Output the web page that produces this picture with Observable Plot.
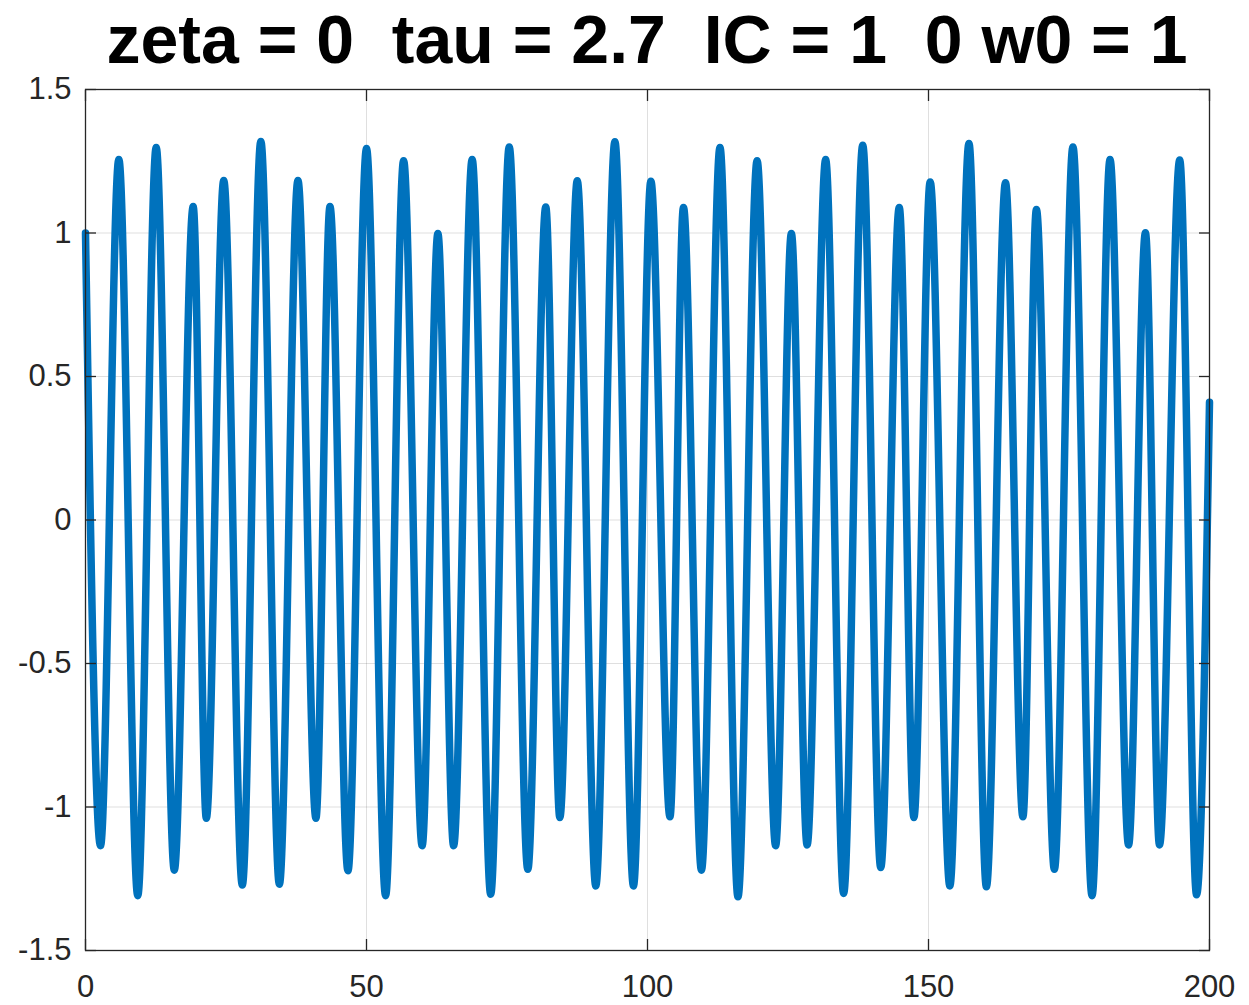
<!DOCTYPE html>
<html>
<head>
<meta charset="utf-8">
<script src="https://cdn.jsdelivr.net/npm/d3@7"></script>
<script src="https://cdn.jsdelivr.net/npm/@observablehq/plot@0.6"></script>
<style>
  html, body { margin: 0; padding: 0; background: #ffffff; }
  #title {
    margin-left: 85px; width: 1124px; height: 75px; line-height: 78px;
    text-align: center; white-space: pre;
    font-family: "Liberation Sans", Arial, Helvetica, sans-serif;
    font-weight: bold; font-size: 68px; color: #000000;
  }
</style>
</head>
<body>
<div id="title"></div>
<div id="chart"></div>
<script>
const titleText = "zeta = 0  tau = 2.7  IC = 1  0 w0 = 1";

// extrema (and end points)
const time = [
  0, 2.67, 5.93, 9.3, 12.58, 15.8, 19.16, 21.5, 24.6, 27.9,
  31.2, 34.5, 37.8, 41.0, 43.5, 46.7, 50.0, 53.4, 56.6, 59.9,
  62.7, 65.5, 68.8, 72.1, 75.4, 78.7, 81.9, 84.4, 87.5, 90.8,
  94.2, 97.5, 100.6, 104.0, 106.4, 109.6, 112.9, 116.1, 119.5, 122.8,
  125.6, 128.4, 131.7, 134.9, 138.3, 141.5, 144.8, 147.4, 150.3, 153.8,
  157.2, 160.3, 163.7, 166.8, 169.2, 172.4, 175.7, 179.1, 182.3, 185.6,
  188.6, 191.1, 194.7, 197.7, 200
];
const response = [
  1.0, -1.135, 1.256, -1.309, 1.298, -1.22, 1.092, -1.039, 1.183, -1.272,
  1.319, -1.269, 1.183, -1.039, 1.092, -1.222, 1.294, -1.309, 1.252, -1.135,
  0.998, -1.135, 1.256, -1.304, 1.30, -1.217, 1.091, -1.037, 1.182, -1.275,
  1.318, -1.275, 1.18, -1.034, 1.089, -1.22, 1.298, -1.313, 1.252, -1.135,
  0.998, -1.132, 1.256, -1.301, 1.306, -1.211, 1.089, -1.037, 1.178, -1.275,
  1.312, -1.278, 1.175, -1.034, 1.082, -1.217, 1.30, -1.309, 1.256, -1.132,
  1.001, -1.132, 1.254, -1.306, 0.41
];

const xTicks = [0, 50, 100, 150, 200];
const yTicks = [-1.5, -1, -0.5, 0, 0.5, 1, 1.5];
const xTickLabels = ["0", "50", "100", "150", "200"];
const yTickLabels = ["-1.5", "-1", "-0.5", "0", "0.5", "1", "1.5"];

document.getElementById("title").textContent = titleText;

const data = time.map((t, i) => ({t, v: response[i]}));
const fmtX = d => xTickLabels[xTicks.indexOf(d)];
const fmtY = d => yTickLabels[yTicks.indexOf(d)];
const axisColor = "#262626";

const chart = Plot.plot({
  width: 1249,
  height: 930,
  marginTop: 14,
  marginBottom: 55,
  marginLeft: 85,
  marginRight: 40,
  style: {
    fontFamily: "'Liberation Sans', Arial, Helvetica, sans-serif",
    fontSize: "31px",
    color: axisColor,
    background: "#ffffff",
    overflow: "visible"
  },
  x: {domain: [0, 200]},
  y: {domain: [-1.5, 1.5]},
  marks: [
    Plot.gridX(xTicks, {stroke: axisColor, strokeOpacity: 0.15, strokeWidth: 1}),
    Plot.gridY(yTicks, {stroke: axisColor, strokeOpacity: 0.15, strokeWidth: 1}),
    Plot.line(data, {x: "t", y: "v", stroke: "#0072BD", strokeWidth: 7.5, curve: "monotone-x", strokeLinejoin: "round"}),
    Plot.frame({stroke: axisColor, strokeWidth: 1.3}),
    Plot.axisX(xTicks, {anchor: "bottom", tickSize: 0, tickPadding: 24, tickFormat: fmtX, label: null}),
    Plot.axisY(yTicks, {anchor: "left", tickSize: 0, tickPadding: 14, tickFormat: fmtY, label: null}),
    Plot.axisX(xTicks, {anchor: "bottom", tickSize: -11, tickFormat: () => "", label: null, strokeWidth: 1.3}),
    Plot.axisX(xTicks, {anchor: "top", tickSize: -11, tickFormat: () => "", label: null, strokeWidth: 1.3}),
    Plot.axisY(yTicks, {anchor: "left", tickSize: -11, tickFormat: () => "", label: null, strokeWidth: 1.3}),
    Plot.axisY(yTicks, {anchor: "right", tickSize: -11, tickFormat: () => "", label: null, strokeWidth: 1.3})
  ]
});
document.getElementById("chart").appendChild(chart);
</script>
</body>
</html>
